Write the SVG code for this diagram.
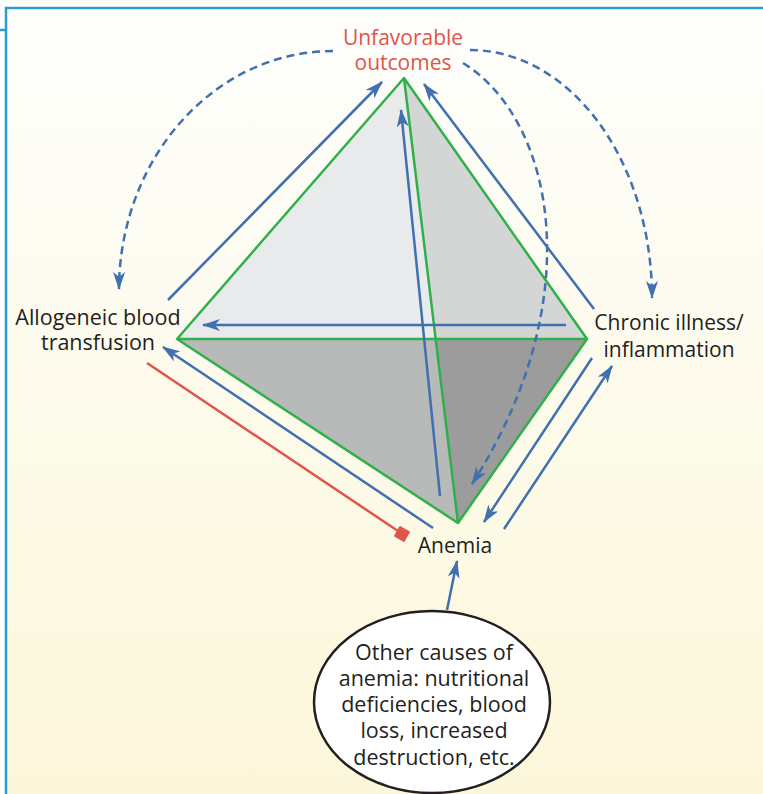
<svg xmlns="http://www.w3.org/2000/svg" width="763" height="794" viewBox="0 0 763 794">
  <defs>
    <linearGradient id="bg" x1="0" y1="0" x2="0" y2="1">
      <stop offset="0" stop-color="#fefefc"/>
      <stop offset="1" stop-color="#fcf7da"/>
    </linearGradient>
    <marker id="ah" markerUnits="userSpaceOnUse" viewBox="0 0 18 12" refX="17" refY="6" markerWidth="18" markerHeight="12" orient="auto">
      <path d="M0,0 L18,6 L0,12 L5,6 Z" fill="#4070b0"/>
    </marker>
    <style>
      .lbl { font-family: "Open Sans", "Liberation Sans", sans-serif; font-size: 21px; fill: #231f20; text-anchor: middle; }
      .red { fill: #e0554a; }
      .edge { stroke: #2fb04a; stroke-width: 2.5; fill: none; stroke-linejoin: round; }
      .arr { stroke: #4070b0; stroke-width: 2.5; fill: none; marker-end: url(#ah); }
      .dash { stroke: #4070b0; stroke-width: 2.5; fill: none; stroke-dasharray: 8 5; marker-end: url(#ah); }
      .inh { stroke: #e0554a; stroke-width: 2.5; fill: none; }
    </style>
  </defs>

  <rect x="0" y="0" width="763" height="794" fill="#ffffff"/>
  <rect x="6" y="8" width="757" height="786" fill="url(#bg)"/>
  <g id="frame" stroke="#2a9dd0" stroke-width="2.5" fill="none">
    <path d="M6,794 L6,8 L763,8"/>
    <path d="M0,30 L6,30"/>
  </g>

  <g id="pyramid">
    <polygon points="404,78 177,339 436,339" fill="#e9eaeb"/>
    <polygon points="404,78 436,339 587,339" fill="#d4d5d5"/>
    <polygon points="177,339 436,339 458,523" fill="#b8b9b9"/>
    <polygon points="436,339 587,339 458,523" fill="#9c9c9c"/>
    <path class="edge" d="M404,78 L177,339 L458,523 L587,339 Z M177,339 L587,339 M404,78 L458,523"/>
  </g>

  <g id="connectors">
    <path class="arr" d="M168,300 L382,82"/>
    <path class="arr" d="M440,496 L401,110"/>
    <path class="arr" d="M594,309 L424,84"/>
    <path class="arr" d="M566,325 L203,325"/>
    <path class="arr" d="M433,528 L163,347"/>
    <path class="arr" d="M592,358 L484,522"/>
    <path class="arr" d="M504,529 L612,366"/>
    <path class="arr" d="M447,610 L457,561"/>
    <path class="inh" d="M147,363 L398,531"/>
    <rect x="396" y="528" width="12" height="12" fill="#e0554a" transform="rotate(30 402 534)"/>
    <path class="dash" d="M333,51 A214,239 0 0 0 119,289"/>
    <path class="dash" d="M470,50 A182,248 0 0 1 652,298"/>
    <path class="dash" d="M463,63 C555,120 590,300 472,484"/>
  </g>

  <g id="node-unfavorable">
    <text class="lbl red" x="403" y="45">Unfavorable<tspan x="403" dy="25">outcomes</tspan></text>
  </g>
  <g id="node-transfusion">
    <text class="lbl" x="98" y="325" style="font-size:21.5px">Allogeneic blood<tspan x="98" dy="25">transfusion</tspan></text>
  </g>
  <g id="node-chronic">
    <text class="lbl" x="669" y="330">Chronic illness/<tspan x="669" dy="27">inflammation</tspan></text>
  </g>
  <g id="node-anemia">
    <text class="lbl" x="455" y="553">Anemia</text>
  </g>
  <g id="node-other">
    <ellipse cx="432" cy="702" rx="118" ry="91" fill="#ffffff" stroke="#231f20" stroke-width="2.5"/>
    <text class="lbl" x="434" y="660" style="font-size:21.5px">Other causes of<tspan x="434" dy="26">anemia: nutritional</tspan><tspan x="434" dy="26">deficiencies, blood</tspan><tspan x="434" dy="26">loss, increased</tspan><tspan x="434" dy="27">destruction, etc.</tspan></text>
  </g>
</svg>
